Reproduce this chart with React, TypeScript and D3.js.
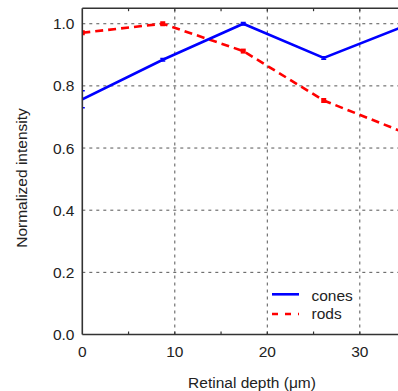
import React from "react";
import * as d3 from "d3";

const depths = [0, 8.7, 17.4, 26.1, 34.8];
const cones = [0.757, 0.884, 1.0, 0.89, 0.992];
const conesErr = [0.027, 0.004, 0.004, 0.004, 0.004];
const rods = [0.971, 1.0, 0.912, 0.753, 0.65];
const rodsErr = [0.006, 0.004, 0.006, 0.006, 0.006];
const xTicks = [0, 10, 20, 30];
const xMinorTicks = [5, 10, 15, 20, 25, 30, 35];
const yTicks = [0, 0.2, 0.4, 0.6, 0.8, 1.0];
const seriesNames = ["cones", "rods"];

const W = 398;
const H = 391;
const FONT = "Liberation Sans, Arial, sans-serif";
const FS = 15.5;

export default function App() {
  const x = d3.scaleLinear().domain([0, 37]).range([82.3, 82.3 + 37 * 9.25]);
  const y = d3.scaleLinear().domain([0, 1.05]).range([334.5, 8.2]);
  const line = d3
    .line<number>()
    .x((_, i) => x(depths[i]))
    .y((d) => y(d));
  const grid = "#555";
  const axis = "#333";
  const xR = x.range()[1];
  return (
    <svg
      width={W}
      height={H}
      style={{ position: "absolute", left: 0, top: 0, background: "#fff" }}
      fontFamily={FONT}
    >
      <defs>
        <clipPath id="plot">
          <rect x={x(0)} y={y(1.05)} width={xR - x(0)} height={y(0) - y(1.05)} />
        </clipPath>
      </defs>
      {/* gridlines */}
      {yTicks.filter((t) => t > 0).map((t) => (
        <line key={"gy" + t} x1={x(0)} x2={xR} y1={y(t)} y2={y(t)} stroke={grid} strokeWidth={1} strokeDasharray="3,4" />
      ))}
      {xTicks.filter((t) => t > 0).map((t) => (
        <line key={"gx" + t} x1={x(t)} x2={x(t)} y1={y(0)} y2={y(1.05)} stroke={grid} strokeWidth={1} strokeDasharray="3,4" />
      ))}
      {/* data */}
      <g clipPath="url(#plot)">
        <path d={line(rods) || ""} fill="none" stroke="#ff0000" strokeWidth={2.6} strokeDasharray="8,5" />
        {rods.map((v, i) => (
          <g key={"r" + i}>
            <rect x={x(depths[i]) - 2.5} y={y(v) - 2.5} width={5} height={5} fill="#ff0000" />
            <line x1={x(depths[i])} x2={x(depths[i])} y1={y(v - rodsErr[i])} y2={y(v + rodsErr[i])} stroke="#ff0000" strokeWidth={1.5} />
          </g>
        ))}
        <path d={line(cones) || ""} fill="none" stroke="#0000ff" strokeWidth={2.6} />
        {cones.map((v, i) => (
          <g key={"c" + i} stroke="#0000ff" strokeWidth={1.5}>
            <line x1={x(depths[i])} x2={x(depths[i])} y1={y(v - conesErr[i])} y2={y(v + conesErr[i])} />
            <line x1={x(depths[i]) - 2.5} x2={x(depths[i]) + 2.5} y1={y(v - conesErr[i])} y2={y(v - conesErr[i])} />
            <line x1={x(depths[i]) - 2.5} x2={x(depths[i]) + 2.5} y1={y(v + conesErr[i])} y2={y(v + conesErr[i])} />
          </g>
        ))}
      </g>
      {/* axes */}
      <line x1={x(0)} x2={x(0)} y1={y(0)} y2={y(1.05)} stroke={axis} strokeWidth={1.6} />
      <line x1={x(0)} x2={xR} y1={y(0)} y2={y(0)} stroke={axis} strokeWidth={1.6} />
      <line x1={x(0)} x2={xR} y1={y(1.05)} y2={y(1.05)} stroke={axis} strokeWidth={1.6} />
      {xMinorTicks.map((t) => (
        <g key={"t" + t} stroke={axis} strokeWidth={1.2}>
          <line x1={x(t)} x2={x(t)} y1={y(0)} y2={y(0) - 3} />
          <line x1={x(t)} x2={x(t)} y1={y(1.05)} y2={y(1.05) + 3} />
        </g>
      ))}
      {yTicks.map((t) => (
        <text key={"yl" + t} x={74.5} y={y(t)} dy="0.36em" textAnchor="end" fontSize={FS} fill="#222">
          {t.toFixed(1)}
        </text>
      ))}
      {xTicks.map((t) => (
        <text key={"xl" + t} x={x(t)} y={357} textAnchor="middle" fontSize={FS} fill="#222">
          {t}
        </text>
      ))}
      <text x={252} y={387.5} textAnchor="middle" fontSize={FS} fill="#222">
        Retinal depth (μm)
      </text>
      <text transform={`translate(26.5,178) rotate(-90)`} textAnchor="middle" fontSize={FS} fill="#222">
        Normalized intensity
      </text>
      {/* legend */}
      <line x1={272} x2={299} y1={294.3} y2={294.3} stroke="#0000ff" strokeWidth={2.6} />
      <text x={311.5} y={300.5} fontSize={FS} fill="#222">{seriesNames[0]}</text>
      <line x1={272} x2={299} y1={314} y2={314} stroke="#ff0000" strokeWidth={2.6} strokeDasharray="6,7" />
      <text x={311.5} y={318.5} fontSize={FS} fill="#222">{seriesNames[1]}</text>
    </svg>
  );
}
